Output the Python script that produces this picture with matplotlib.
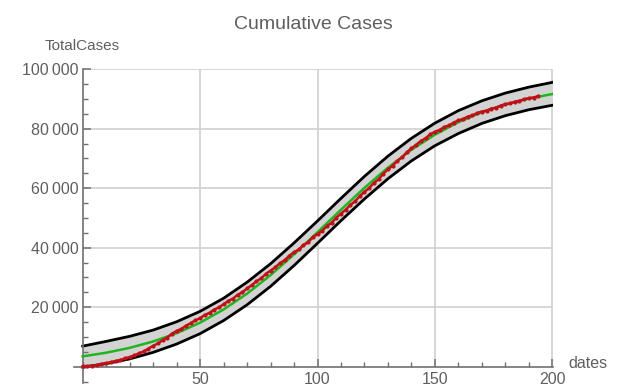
import matplotlib
matplotlib.use("Agg")
import matplotlib.pyplot as plt
from matplotlib.ticker import FuncFormatter, MultipleLocator

plt.rcParams['font.family'] = ['Liberation Sans', 'DejaVu Sans']

# model curve and its band, every 10 days (cases in thousands)
model_days = [0, 10, 20, 30, 40, 50, 60, 70, 80, 90, 100,
              110, 120, 130, 140, 150, 160, 170, 180, 190, 200]
model_fit = [3.46, 4.69, 6.32, 8.47, 11.25, 14.80, 19.22, 24.55, 30.78, 37.75, 45.20,
             52.78, 60.14, 66.93, 72.93, 78.02, 82.21, 85.55, 88.15, 90.16, 91.67]
band_upper = [6.9, 8.5, 10.2, 12.3, 15.1, 18.6, 23.0, 28.4, 34.6, 41.6, 49.0,
              56.6, 64.0, 70.8, 76.8, 81.9, 86.1, 89.4, 92.0, 94.0, 95.6]
band_lower = [-0.2, 1.0, 2.6, 4.8, 7.6, 11.1, 15.5, 20.8, 27.0, 34.0, 41.5,
              49.1, 56.4, 63.2, 69.2, 74.3, 78.4, 81.8, 84.4, 86.4, 87.9]

# observed totals, every 2 days (thousands)
obs_days = list(range(0, 196, 2))
obs_cases = [0.1, 0.2, 0.3, 0.5, 0.9, 1.2, 1.5, 1.9, 2.2, 2.8,
             3.2, 3.8, 4.5, 5.1, 6.1, 7.0, 7.8, 8.9, 9.8, 11.1,
             12.0, 12.7, 13.8, 14.6, 15.6, 16.3, 17.4, 18.1, 19.2, 19.9,
             21.0, 22.1, 22.9, 24.2, 25.0, 26.3, 27.4, 28.7, 29.7, 31.2,
             32.3, 33.4, 34.8, 35.8, 37.3, 38.5, 39.4, 40.9, 41.8, 43.5,
             44.6, 45.7, 47.3, 48.4, 50.1, 51.5, 52.8, 54.4, 55.6, 57.4,
             58.8, 60.1, 61.8, 63.0, 64.9, 66.3, 67.6, 69.2, 70.4, 72.1,
             73.4, 74.6, 75.9, 76.8, 78.1, 79.0, 79.6, 80.6, 81.1, 82.1,
             82.8, 83.3, 84.1, 84.5, 85.3, 85.8, 86.1, 86.8, 87.1, 87.8,
             88.3, 88.5, 89.1, 89.4, 89.9, 90.3, 90.5, 91.0]

k = 1000
fit = [v * k for v in model_fit]
upper = [v * k for v in band_upper]
lower = [v * k for v in band_lower]
obs = [v * k for v in obs_cases]

fig = plt.figure(figsize=(6.21, 3.89), dpi=100)
ax = fig.add_axes([0.1192, 0.0154, 0.7721, 0.8065])
ax.set_xlim(-3.7, 200.5)
ax.set_ylim(-5500, 100000)

grid_col = '#d0d0d0'
ax.vlines([50, 100, 150, 200], 0, 100000, color=grid_col, lw=1.2, zorder=0)
ax.hlines([20000, 40000, 60000, 80000, 100000], 0, 200, color=grid_col, lw=1.2, zorder=0)

ax.fill_between(model_days, lower, upper, color='#d3d3d3', lw=0, zorder=1)
ax.plot(model_days, upper, color='black', lw=2.0, zorder=2)
ax.plot(model_days, lower, color='black', lw=2.0, zorder=2)
ax.plot(model_days, fit, color='#1fb51f', lw=1.8, zorder=3)
ax.plot(obs_days, obs, color='#bf1119', lw=1.8, marker='o', ms=3.0, mew=0, zorder=4)

axis_col = '#707070'
for s in ['top', 'right']:
    ax.spines[s].set_visible(False)
ax.spines['left'].set_position(('data', 0))
ax.spines['bottom'].set_position(('data', 0))
for s in ['left', 'bottom']:
    ax.spines[s].set_color(axis_col)
    ax.spines[s].set_linewidth(1.2)

ax.set_xticks([50, 100, 150, 200])
ax.xaxis.set_minor_locator(MultipleLocator(10))
ax.set_yticks([20000, 40000, 60000, 80000, 100000])
ax.yaxis.set_minor_locator(MultipleLocator(5000))
ax.yaxis.set_major_formatter(FuncFormatter(
    lambda v, p: f"{int(v):,}".replace(",", "\u2009")))
ax.tick_params(which='major', direction='in', length=6, width=1.1, color=axis_col,
               labelsize=11.5, labelcolor='#5f5f5f')
ax.tick_params(which='minor', direction='in', length=3.5, width=1.0, color=axis_col)
ax.tick_params(axis='x', pad=4)
ax.tick_params(axis='y', pad=3)

fig.text(0.5048, 0.925, "Cumulative Cases", ha='center', va='baseline',
         fontsize=14, color='#5f5f5f')
fig.text(0.133, 0.872, "TotalCases", ha='center', va='baseline',
         fontsize=11, color='#5f5f5f')
fig.text(0.915, 0.055, "dates", ha='left', va='baseline',
         fontsize=11.5, color='#5f5f5f')

fig.savefig("out.png", dpi=100)
